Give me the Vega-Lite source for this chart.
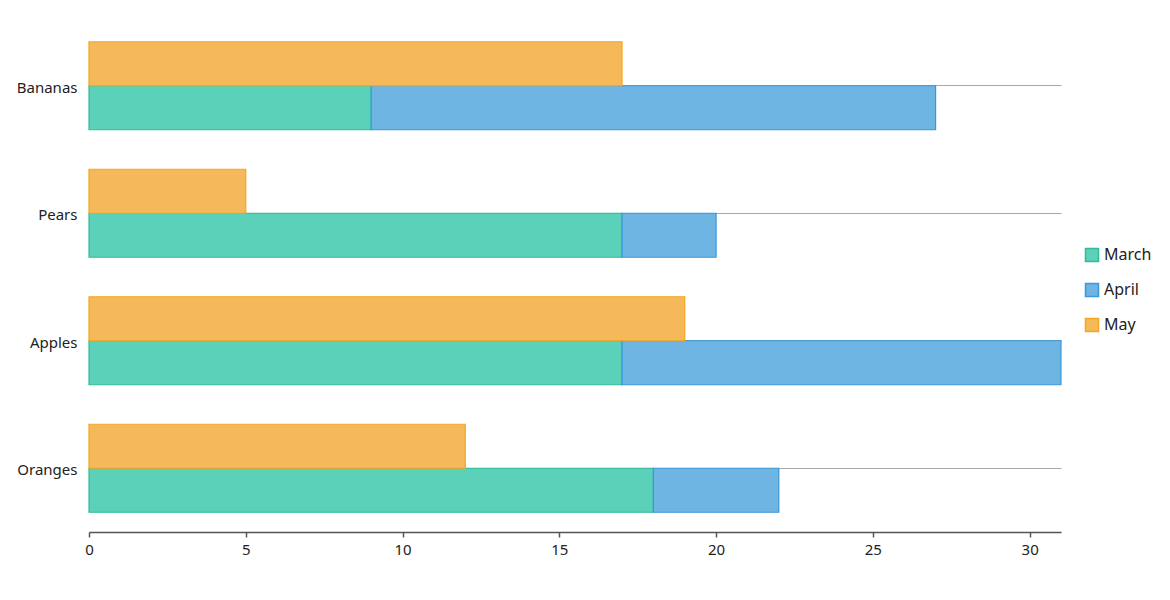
{
  "$schema": "https://vega.github.io/schema/vega-lite/v6.json",
  "width": 972,
  "height": 510,
  "autosize": {"type": "none"},
  "padding": {"left": 89, "top": 22, "right": 109, "bottom": 68},
  "background": "white",
  "config": {
    "view": {"stroke": null},
    "font": "Noto Sans",
    "axis": {"labelFont": "Noto Sans", "labelColor": "#222"},
    "legend": {"labelFont": "Noto Sans"}
  },
  "data": {
    "values": [
      {"fruit": "Bananas", "month": "March", "value": 9, "grp": "MA"},
      {"fruit": "Bananas", "month": "April", "value": 18, "grp": "MA"},
      {"fruit": "Bananas", "month": "May", "value": 17, "grp": "May"},
      {"fruit": "Pears", "month": "March", "value": 17, "grp": "MA"},
      {"fruit": "Pears", "month": "April", "value": 3, "grp": "MA"},
      {"fruit": "Pears", "month": "May", "value": 5, "grp": "May"},
      {"fruit": "Apples", "month": "March", "value": 17, "grp": "MA"},
      {"fruit": "Apples", "month": "April", "value": 14, "grp": "MA"},
      {"fruit": "Apples", "month": "May", "value": 19, "grp": "May"},
      {"fruit": "Oranges", "month": "March", "value": 18, "grp": "MA"},
      {"fruit": "Oranges", "month": "April", "value": 4, "grp": "MA"},
      {"fruit": "Oranges", "month": "May", "value": 12, "grp": "May"}
    ]
  },
  "encoding": {
    "y": {
      "field": "fruit",
      "type": "nominal",
      "sort": ["Bananas", "Pears", "Apples", "Oranges"],
      "scale": {"paddingInner": 0.31, "paddingOuter": 0.155},
      "axis": {
        "title": null,
        "ticks": false,
        "domain": false,
        "grid": true,
        "gridColor": "#aaaaaa",
        "gridWidth": 1,
        "labelFontSize": 15,
        "labelPadding": 12,
        "labelOffset": 2
      }
    },
    "yOffset": {
      "field": "grp",
      "type": "nominal",
      "sort": ["May", "MA"],
      "scale": {"domain": ["May", "MA"], "paddingInner": 0, "paddingOuter": 0}
    },
    "fill": {
      "field": "month",
      "type": "nominal",
      "scale": {"domain": ["March", "April", "May"], "range": ["#5cd1b9", "#6fb5e4", "#f5b95a"]},
      "legend": {
        "title": null,
        "orient": "none",
        "legendX": 995,
        "legendY": 225,
        "symbolType": "square",
        "symbolSize": 169,
        "symbolStrokeWidth": 1.5,
        "labelFontSize": 16,
        "labelColor": "#222",
        "rowPadding": 15,
        "labelOffset": 4
      }
    },
    "stroke": {
      "field": "month",
      "type": "nominal",
      "scale": {"domain": ["March", "April", "May"], "range": ["#2ebd9a", "#3a97dc", "#f5a623"]},
      "legend": {
        "title": null,
        "orient": "none",
        "legendX": 995,
        "legendY": 225,
        "symbolType": "square",
        "symbolSize": 169,
        "symbolStrokeWidth": 1.5,
        "labelFontSize": 16,
        "labelColor": "#222",
        "rowPadding": 15,
        "labelOffset": 4
      }
    }
  },
  "layer": [
    {
      "transform": [{"filter": "datum.grp === 'MA'"}, {"calculate": "datum.month === 'March' ? 0 : 1", "as": "ord"}],
      "mark": {"type": "bar", "strokeWidth": 1.2, "fillOpacity": 1},
      "encoding": {
        "x": {
          "field": "value",
          "type": "quantitative",
          "stack": "zero",
          "scale": {"domain": [0, 31], "nice": false},
          "axis": {
            "title": null,
            "grid": false,
            "values": [0, 5, 10, 15, 20, 25, 30],
            "labelFlush": false,
            "domainColor": "#555555",
            "domainWidth": 1.5,
            "tickColor": "#555555",
            "tickSize": 5,
            "tickWidth": 1.5,
            "labelFontSize": 15,
            "labelPadding": 5
          }
        },
        "order": {"field": "ord", "type": "quantitative"}
      }
    },
    {
      "transform": [{"filter": "datum.grp === 'May'"}],
      "mark": {"type": "bar", "strokeWidth": 1.2, "fillOpacity": 1},
      "encoding": {
        "x": {"field": "value", "type": "quantitative", "stack": null}
      }
    }
  ]
}
